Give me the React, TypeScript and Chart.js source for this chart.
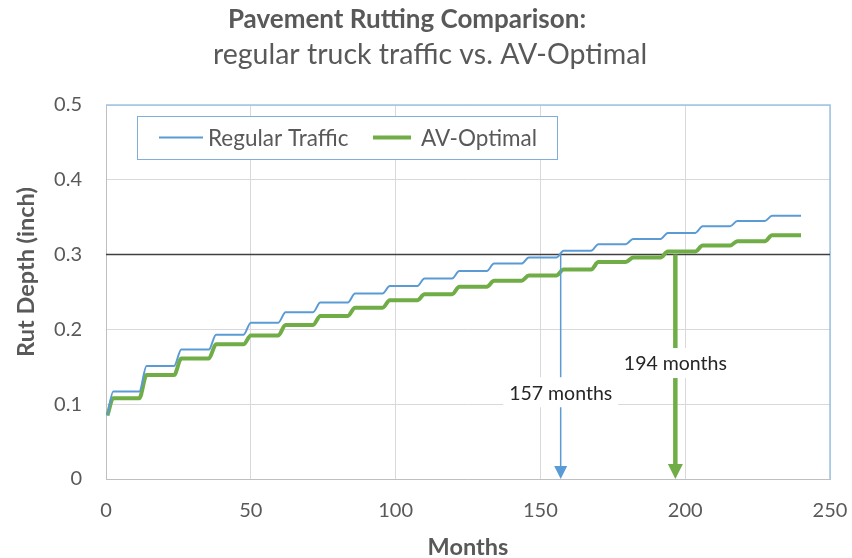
import React, { useEffect, useRef } from "react";
import { Chart, registerables } from "chart.js";

Chart.register(...registerables);

// ---- data ----
const stepStartMonths = [0, 12, 24, 36, 48, 60, 72, 84, 96, 108, 120, 132, 144, 156, 168, 180, 192, 204, 216, 228];
const regularTrafficLevels = [0.117, 0.151, 0.173, 0.193, 0.209, 0.223, 0.236, 0.248, 0.258, 0.268, 0.278, 0.288, 0.296, 0.305, 0.314, 0.321, 0.329, 0.338, 0.345, 0.352];
const avOptimalLevels = [0.108, 0.139, 0.161, 0.18, 0.192, 0.206, 0.218, 0.229, 0.239, 0.247, 0.257, 0.265, 0.272, 0.28, 0.29, 0.296, 0.304, 0.312, 0.318, 0.326];
const initialRutDepth = [0.085, 0.085];
const lastMonth = 240;
const seriesNames = ["Regular Traffic", "AV-Optimal"];
const xTickValues = [0, 50, 100, 150, 200, 250];
const yTickValues = [0, 0.1, 0.2, 0.3, 0.4, 0.5];
const thresholdDepth = 0.3;
const crossingMonths = [157, 196.6];
const crossingLabels = ["157 months", "194 months"];
const crossingLabelDepths = [0.116, 0.155];
const titleLines = ["Pavement Rutting Comparison:", "regular truck traffic vs. AV-Optimal"];
const xAxisTitle = "Months";
const yAxisTitle = "Rut Depth (inch)";

// ---- styling ----
const BLUE = "#5B9BD5";
const GREEN = "#70AD47";
const TEXT = "#595959";
const FONT = "Lato, 'Open Sans', sans-serif";
const W = 852;
const H = 558;
const RAMP_BEFORE = 0.5;
const RAMP_AFTER = 2;

function buildSteps(levels: number[], start: number) {
  const pts: { x: number; y: number }[] = [{ x: 0.5, y: start }];
  levels.forEach((lv, k) => {
    const s = k === 0 ? stepStartMonths[0] + 2.5 : stepStartMonths[k] + RAMP_AFTER;
    const e = k === levels.length - 1 ? lastMonth : stepStartMonths[k + 1] - RAMP_BEFORE;
    pts.push({ x: s, y: lv });
    pts.push({ x: e, y: lv });
  });
  return pts;
}

const decorPlugin = {
  id: "decor",
  beforeDatasetsDraw(chart: any) {
    const { ctx, chartArea } = chart;
    const { left, right, top, bottom } = chartArea;
    const ys = chart.scales.y.getPixelForValue(thresholdDepth);
    ctx.save();
    ctx.strokeStyle = "#9DC3E6";
    ctx.lineWidth = 1.5;
    ctx.beginPath();
    ctx.moveTo(left, top);
    ctx.lineTo(right, top);
    ctx.lineTo(right, bottom);
    ctx.stroke();
    ctx.strokeStyle = "#404040";
    ctx.lineWidth = 1.5;
    ctx.beginPath();
    ctx.moveTo(left, ys);
    ctx.lineTo(right, ys);
    ctx.stroke();
    ctx.restore();
  },
  afterDatasetsDraw(chart: any) {
    const { ctx } = chart;
    const xs = chart.scales.x;
    const ysc = chart.scales.y;
    ctx.save();
    // arrows
    const arrowStyles = [
      { color: BLUE, lw: 1.5, head: 13 },
      { color: GREEN, lw: 4.5, head: 15 },
    ];
    crossingMonths.forEach((m, i) => {
      const st = arrowStyles[i];
      const px = xs.getPixelForValue(m);
      const y0 = ysc.getPixelForValue(thresholdDepth);
      const y1 = ysc.getPixelForValue(0);
      ctx.strokeStyle = st.color;
      ctx.lineWidth = st.lw;
      ctx.beginPath();
      ctx.moveTo(px, y0);
      ctx.lineTo(px, y1 - st.head + 2);
      ctx.stroke();
      ctx.fillStyle = st.color;
      ctx.beginPath();
      ctx.moveTo(px - st.head / 2, y1 - st.head);
      ctx.lineTo(px + st.head / 2, y1 - st.head);
      ctx.lineTo(px, y1);
      ctx.closePath();
      ctx.fill();
    });
    // labels
    ctx.font = `19.5px ${FONT}`;
    ctx.textAlign = "center";
    ctx.textBaseline = "middle";
    crossingLabels.forEach((t, i) => {
      const px = xs.getPixelForValue(crossingMonths[i]);
      const py = ysc.getPixelForValue(crossingLabelDepths[i]);
      const w = ctx.measureText(t).width + 12;
      ctx.fillStyle = "#ffffff";
      ctx.fillRect(px - w / 2, py - 15, w, 30);
      ctx.fillStyle = "#262626";
      ctx.fillText(t, px, py + 1);
    });
    // legend
    const lx = 137, ly = 116, lw = 420, lh = 43;
    ctx.fillStyle = "#ffffff";
    ctx.fillRect(lx, ly, lw, lh);
    ctx.strokeStyle = "#7FAEDC";
    ctx.lineWidth = 1;
    ctx.strokeRect(lx + 0.5, ly + 0.5, lw, lh);
    const cy = ly + lh / 2;
    const legendItems = [
      { color: BLUE, lw: 2, x0: 159, x1: 203, tx: 208 },
      { color: GREEN, lw: 4, x0: 373, x1: 411, tx: 421 },
    ];
    ctx.font = `22.5px ${FONT}`;
    ctx.textAlign = "left";
    ctx.textBaseline = "middle";
    legendItems.forEach((it, i) => {
      ctx.strokeStyle = it.color;
      ctx.lineWidth = it.lw;
      ctx.beginPath();
      ctx.moveTo(it.x0, cy);
      ctx.lineTo(it.x1, cy);
      ctx.stroke();
      ctx.fillStyle = TEXT;
      ctx.fillText(chart.data.datasets[i].label, it.tx, cy + 1);
    });
    ctx.restore();
  },
  afterDraw(chart: any) {
    const { ctx, chartArea } = chart;
    const { left, right } = chartArea;
    ctx.save();
    ctx.fillStyle = TEXT;
    ctx.textAlign = "center";
    ctx.textBaseline = "alphabetic";
    ctx.font = `bold 26px ${FONT}`;
    ctx.fillText(titleLines[0], 407, 28);
    ctx.font = `28.5px ${FONT}`;
    ctx.fillText(titleLines[1], 430, 64);
    ctx.font = `bold 23.5px ${FONT}`;
    ctx.fillText(xAxisTitle, (left + right) / 2, 555);
    ctx.translate(26, 272);
    ctx.rotate(-Math.PI / 2);
    ctx.textBaseline = "middle";
    ctx.fillText(yAxisTitle, 0, 0);
    ctx.restore();
  },
};

export default function App() {
  const ref = useRef<HTMLCanvasElement>(null);
  useEffect(() => {
    if (!ref.current) return;
    const chart = new Chart(ref.current, {
      type: "line",
      data: {
        datasets: [
          {
            label: seriesNames[0],
            data: buildSteps(regularTrafficLevels, initialRutDepth[0]),
            borderColor: BLUE,
            borderWidth: 2,
            pointRadius: 0,
            cubicInterpolationMode: "monotone",
            fill: false,
          },
          {
            label: seriesNames[1],
            data: buildSteps(avOptimalLevels, initialRutDepth[1]),
            borderColor: GREEN,
            borderWidth: 4,
            pointRadius: 0,
            cubicInterpolationMode: "monotone",
            fill: false,
          },
        ],
      },
      options: {
        responsive: false,
        animation: false,
        devicePixelRatio: 1,
        layout: { padding: { left: 0, top: 105, right: 22, bottom: 0 } },
        plugins: {
          legend: { display: false },
          title: { display: false },
          tooltip: { enabled: false },
        },
        scales: {
          x: {
            type: "linear",
            min: 0,
            max: 250,
            afterFit: (s: any) => {
              s.height = H - 479;
              s.paddingLeft = 0;
              s.paddingRight = 0;
            },
            afterBuildTicks: (s: any) => {
              s.ticks = xTickValues.map((v) => ({ value: v }));
            },
            grid: { color: "#D9D9D9", lineWidth: 1, drawTicks: false },
            border: { display: true, color: "#BFBFBF", width: 1 },
            ticks: {
              padding: 20,
              color: TEXT,
              font: { family: FONT, size: 20 },
              maxRotation: 0,
              callback: (v: any) => String(v),
            },
          },
          y: {
            type: "linear",
            min: 0,
            max: 0.5,
            afterFit: (s: any) => {
              s.width = 106;
              s.paddingTop = 0;
              s.paddingBottom = 0;
            },
            afterBuildTicks: (s: any) => {
              s.ticks = yTickValues.map((v) => ({ value: v }));
            },
            grid: { color: "#D9D9D9", lineWidth: 1, drawTicks: false },
            border: { display: true, color: "#BFBFBF", width: 1 },
            ticks: {
              padding: 24,
              color: TEXT,
              font: { family: FONT, size: 20 },
              callback: (v: any) => (v === 0 ? "0" : Number(v).toFixed(1)),
            },
          },
        },
      },
      plugins: [decorPlugin],
    });
    return () => chart.destroy();
  }, []);
  return (
    <div style={{ position: "absolute", left: 0, top: 0, width: W, height: H, background: "#fff" }}>
      <canvas ref={ref} width={W} height={H} style={{ display: "block" }} />
    </div>
  );
}
